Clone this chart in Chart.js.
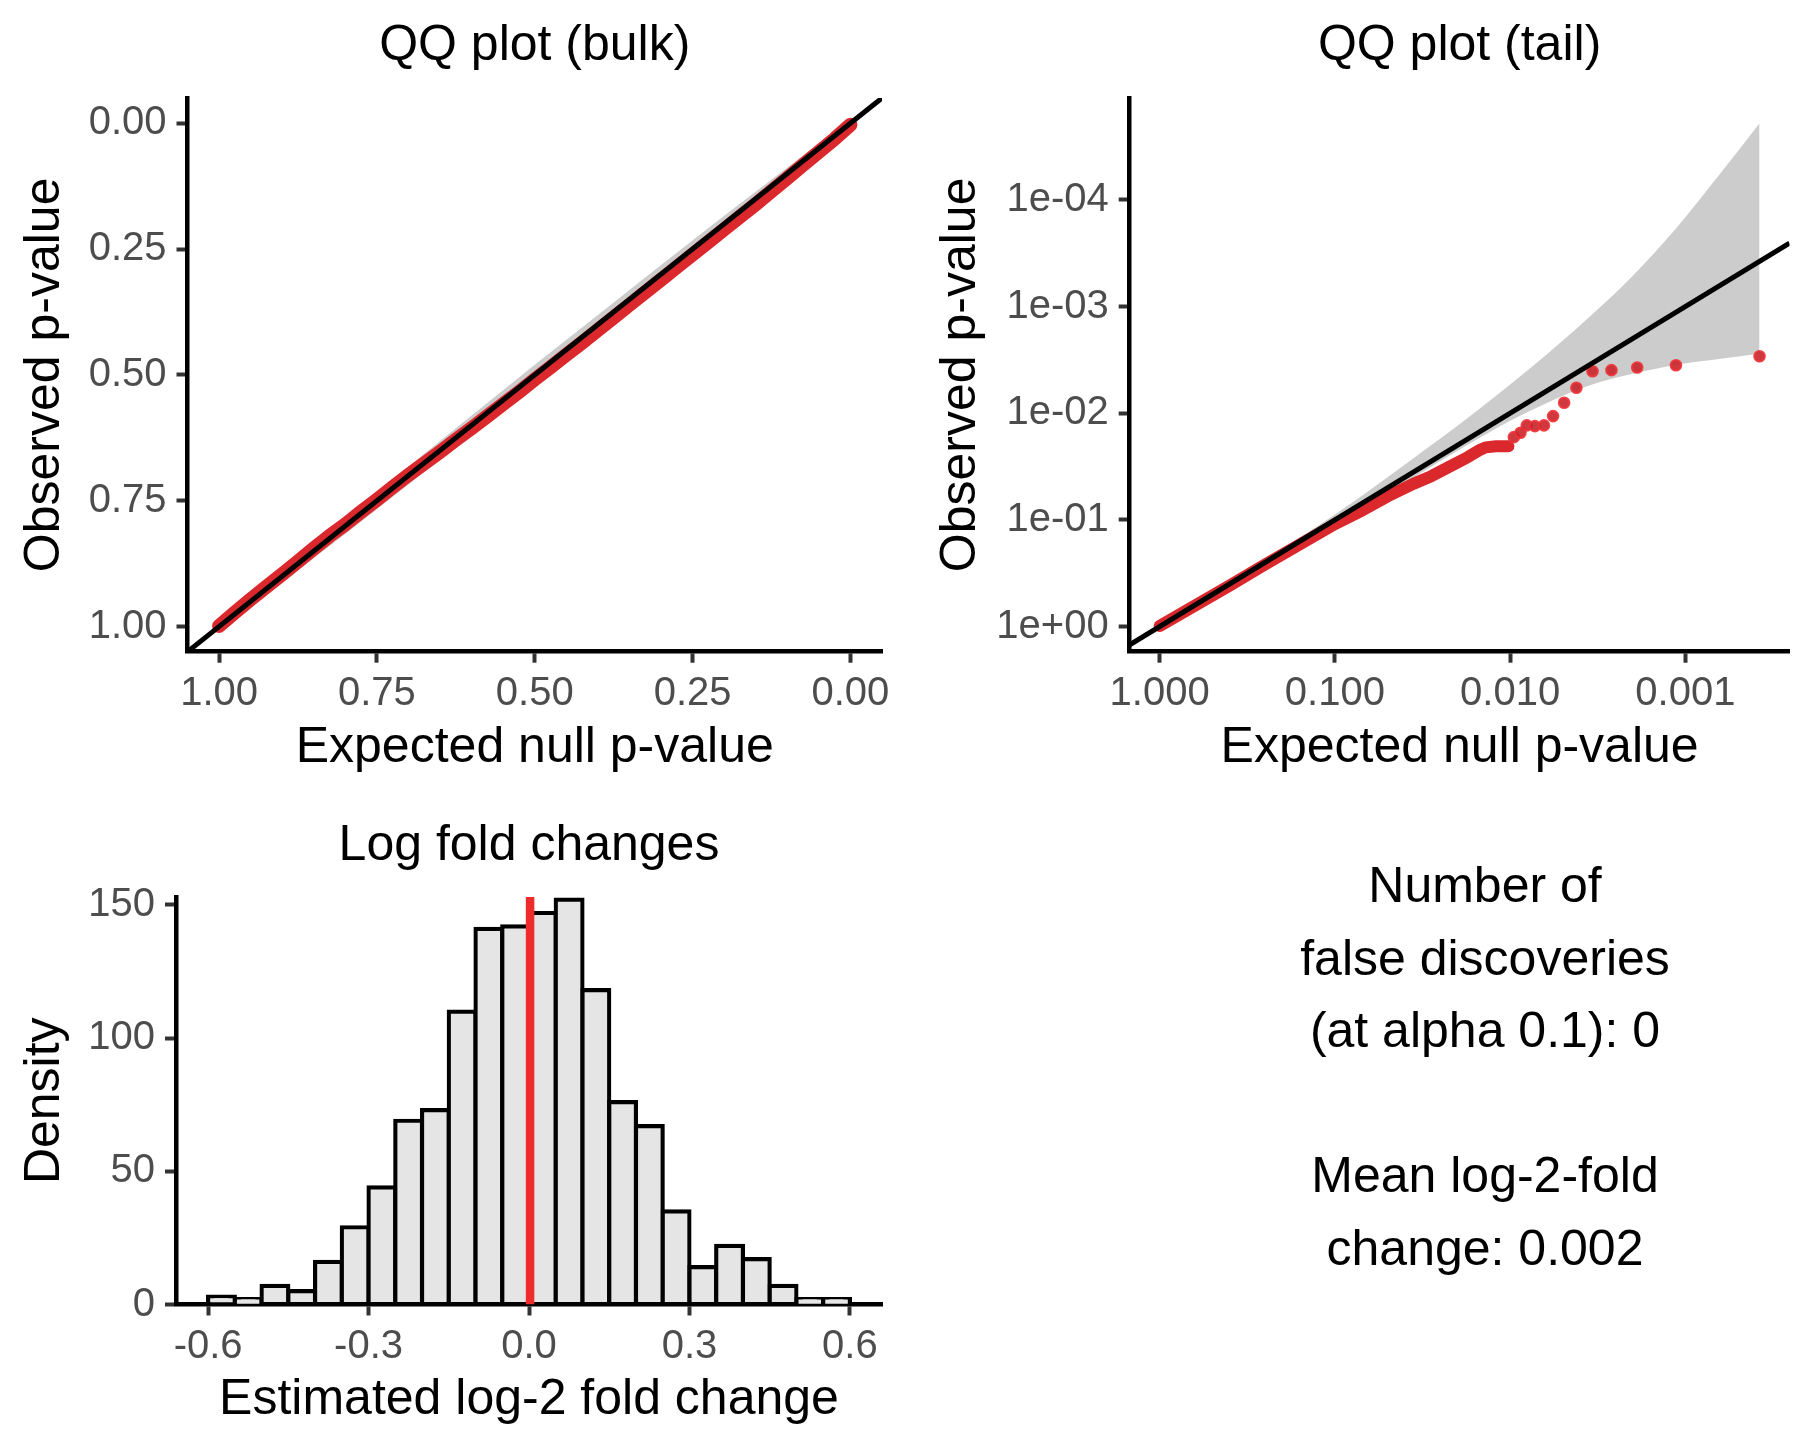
<!DOCTYPE html>
<html>
<head>
<meta charset="utf-8">
<script src="https://cdn.jsdelivr.net/npm/chart.js@4.4.1/dist/chart.umd.min.js"></script>
<style>
  html, body { margin: 0; padding: 0; background: #fff; }
  body { width: 1815px; height: 1452px; position: relative; overflow: hidden; }
  canvas { position: absolute; }
  #bulk { left: 0; top: 0; }
  #tail { left: 907px; top: 0; }
  #hist { left: 0; top: 790px; }
  #summary {
    position: absolute; left: 1185px; top: 849px; width: 600px;
    text-align: center; font-family: "Liberation Sans", Arial, sans-serif;
    font-size: 50px; line-height: 72.5px; color: #000;
  }
</style>
</head>
<body>
<canvas id="bulk" width="907" height="790"></canvas>
<canvas id="tail" width="908" height="790"></canvas>
<canvas id="hist" width="907" height="662"></canvas>
<div id="summary"></div>
<script>
// ── DATA ─────────────────────────────
// QQ plot (bulk): expected vs observed p-value
const bulkExpected = [1.000, 0.975, 0.950, 0.925, 0.900, 0.875, 0.850, 0.825, 0.800, 0.775,
  0.750, 0.725, 0.700, 0.675, 0.650, 0.625, 0.600, 0.575, 0.550, 0.525,
  0.500, 0.475, 0.450, 0.425, 0.400, 0.375, 0.350, 0.325, 0.300, 0.275,
  0.250, 0.225, 0.200, 0.175, 0.150, 0.125, 0.100, 0.075, 0.050, 0.025, 0.000];
const bulkObserved = [0.999, 0.972, 0.946, 0.921, 0.896, 0.871, 0.845, 0.820, 0.797, 0.772,
  0.748, 0.723, 0.699, 0.676, 0.653, 0.629, 0.606, 0.582, 0.558, 0.534,
  0.509, 0.485, 0.460, 0.436, 0.411, 0.386, 0.361, 0.336, 0.311, 0.286,
  0.261, 0.236, 0.211, 0.186, 0.161, 0.135, 0.109, 0.083, 0.057, 0.031, 0.003];
const bulkBandExpected = [0, 0.05, 0.1, 0.2, 0.3, 0.4, 0.5, 0.6, 0.7, 0.8, 0.9, 0.95, 1];
const bulkBandLow  = [0.000, 0.041, 0.088, 0.184, 0.282, 0.381, 0.480, 0.581, 0.682, 0.784, 0.888, 0.941, 0.997];
const bulkBandHigh = [0.003, 0.059, 0.112, 0.216, 0.318, 0.419, 0.520, 0.619, 0.718, 0.816, 0.912, 0.959, 1.000];
const bulkRange = [-0.05, 1.05];
const bulkTicks = [0, 0.25, 0.5, 0.75, 1];
const bulkTickLabels = ["0.00", "0.25", "0.50", "0.75", "1.00"];

// QQ plot (tail): values as -log10(p)
const tailDenseExp = [0.0, 0.2, 0.4, 0.6, 0.8, 1.0, 1.157, 1.3, 1.45, 1.55, 1.69, 1.76, 1.82, 1.86, 1.92, 1.99];
const tailDenseObs = [0.005, 0.195, 0.385, 0.58, 0.77, 0.96, 1.09, 1.22, 1.34, 1.41, 1.53, 1.59, 1.65, 1.68, 1.69, 1.69];
const tailSparseExp = [2.021, 2.059, 2.095, 2.141, 2.193, 2.245, 2.308, 2.378, 2.470, 2.578, 2.725, 2.946, 3.423];
const tailSparseObs = [1.776, 1.817, 1.886, 1.879, 1.886, 1.973, 2.098, 2.239, 2.394, 2.404, 2.429, 2.450, 2.535];
const tailBandExp   = [0, 0.5, 1.0, 1.2, 1.4, 1.6, 1.8, 2.0, 2.2, 2.45, 2.7, 2.95, 3.2, 3.423];
const tailBandUpper = [0.003, 0.52, 1.05, 1.28, 1.52, 1.76, 2.01, 2.27, 2.54, 2.90, 3.29, 3.74, 4.25, 4.72];
const tailBandLower = [0.0, 0.485, 0.965, 1.16, 1.35, 1.55, 1.745, 1.93, 2.09, 2.26, 2.37, 2.455, 2.51, 2.56];
const tailXRange = [-0.171, 3.594];
const tailYRange = [-0.236, 4.956];
const tailXTicks = [1, 0.1, 0.01, 0.001];
const tailXTickLabels = ["1.000", "0.100", "0.010", "0.001"];
const tailYTicks = [1, 0.1, 0.01, 0.001, 0.0001];
const tailYTickLabels = ["1e+00", "1e-01", "1e-02", "1e-03", "1e-04"];

// Log fold changes histogram
const binCenters = [-0.575, -0.525, -0.475, -0.425, -0.375, -0.325, -0.275, -0.225, -0.175, -0.125, -0.075, -0.025,
  0.025, 0.075, 0.125, 0.175, 0.225, 0.275, 0.325, 0.375, 0.425, 0.475, 0.525, 0.575];
const binCounts = [3, 2, 7, 5, 16, 29, 44, 69, 73, 110, 141, 142,
  147, 152, 118, 76, 67, 35, 14, 22, 17, 7, 2, 2];
const meanLfc = 0.002;
const histXRange = [-0.66, 0.66];
const histYMax = 153;
const histXTicks = [-0.6, -0.3, 0, 0.3, 0.6];
const histXTickLabels = ["-0.6", "-0.3", "0.0", "0.3", "0.6"];
const histYTicks = [0, 50, 100, 150];
const histYTickLabels = ["0", "50", "100", "150"];

const summaryLines = ["Number of", "false discoveries", "(at alpha 0.1): 0", "", "Mean log-2-fold", "change: 0.002"];

// ── STYLE ─────────────────────────────
const FONT = "'Liberation Sans', Arial, sans-serif";
const TICK_TEXT = "#4D4D4D";
const RED = "rgb(218,40,45)";
Chart.defaults.font.family = FONT;

// ── HELPERS ─────────────────────────────
const toXY = (xs, ys) => xs.map((x, i) => ({ x: x, y: ys[i] }));
const fromLog = v => Math.pow(10, -v);
const logXY = (xs, ys) => xs.map((x, i) => ({ x: fromLog(x), y: fromLog(ys[i]) }));

const panelTitle = {
  id: "panelTitle",
  afterDraw(chart, args, opts) {
    const { ctx, chartArea } = chart;
    ctx.save();
    ctx.font = "50px " + FONT;
    ctx.fillStyle = "#000";
    ctx.textAlign = "center";
    ctx.textBaseline = "alphabetic";
    ctx.fillText(opts.text, (chartArea.left + chartArea.right) / 2, opts.baseline);
    ctx.restore();
  }
};

function xAxis(extra, ticks, labels, height, title) {
  return Object.assign({
    position: "bottom",
    grid: { display: true, drawOnChartArea: false, drawTicks: true, tickLength: 11, tickWidth: 4, tickColor: "#333333", offset: false },
    border: { display: true, color: "#000", width: 4.5 },
    ticks: { color: TICK_TEXT, font: { size: 40 }, padding: 7.5, maxRotation: 0, autoSkip: false,
             callback: (v, i) => labels[i] },
    title: { display: true, text: title, color: "#000", font: { size: 50 }, padding: { top: 0, bottom: height.titlePad } },
    afterBuildTicks: s => { s.ticks = ticks.map(v => ({ value: v })); },
    afterFit: s => { s.height = height.size; s.paddingLeft = 0; s.paddingRight = 0; }
  }, extra);
}

function yAxis(extra, ticks, labels, width, title) {
  return Object.assign({
    position: "left",
    grid: { display: true, drawOnChartArea: false, drawTicks: true, tickLength: 11, tickWidth: 4, tickColor: "#333333" },
    border: { display: true, color: "#000", width: 4.5 },
    ticks: { color: TICK_TEXT, font: { size: 40 }, padding: 10, autoSkip: false,
             callback: (v, i) => labels[i] },
    title: { display: true, text: title, color: "#000", font: { size: 50 }, padding: { top: width.titlePad, bottom: 0 } },
    afterBuildTicks: s => { s.ticks = ticks.map(v => ({ value: v })); },
    afterFit: s => { s.width = width.size; s.paddingTop = 0; s.paddingBottom = 0; }
  }, extra);
}

const baseOptions = {
  responsive: false,
  animation: false,
  events: []
};

// ── QQ PLOT (BULK) ─────────────────────────
new Chart(document.getElementById("bulk"), {
  type: "line",
  data: {
    datasets: [
      { data: toXY(bulkBandExpected, bulkBandLow), borderWidth: 0, pointRadius: 0, fill: false, order: 3 },
      { data: toXY(bulkBandExpected, bulkBandHigh), borderWidth: 0, pointRadius: 0, fill: "-1",
        backgroundColor: "#CCCCCC", order: 3 },
      { data: toXY(bulkExpected, bulkObserved), borderColor: RED, borderWidth: 14,
        borderCapStyle: "round", borderJoinStyle: "round", pointRadius: 0, fill: false, order: 2 },
      { data: bulkRange.map(v => ({ x: v, y: v })), borderColor: "#000", borderWidth: 5,
        pointRadius: 0, fill: false, order: 1 }
    ]
  },
  options: Object.assign({}, baseOptions, {
    layout: { padding: { top: 98, right: 25, left: 0, bottom: 0 } },
    plugins: { legend: { display: false }, tooltip: { enabled: false },
               panelTitle: { text: "QQ plot (bulk)", baseline: 60 } },
    scales: {
      x: xAxis({ type: "linear", reverse: true, min: bulkRange[0], max: bulkRange[1] },
               bulkTicks, bulkTickLabels, { size: 138.3, titlePad: 12 }, "Expected null p-value"),
      y: yAxis({ type: "linear", reverse: true, min: bulkRange[0], max: bulkRange[1] },
               bulkTicks, bulkTickLabels, { size: 187.5, titlePad: 15.4 }, "Observed p-value")
    }
  }),
  plugins: [panelTitle]
});

// ── QQ PLOT (TAIL) ─────────────────────────
new Chart(document.getElementById("tail"), {
  type: "line",
  data: {
    datasets: [
      { data: logXY(tailBandExp, tailBandLower), borderWidth: 0, pointRadius: 0, fill: false,
        cubicInterpolationMode: "monotone", order: 4 },
      { data: logXY(tailBandExp, tailBandUpper), borderWidth: 0, pointRadius: 0, fill: "-1",
        backgroundColor: "#CCCCCC", cubicInterpolationMode: "monotone", order: 4 },
      { data: logXY(tailDenseExp, tailDenseObs), borderColor: RED, borderWidth: 12,
        borderCapStyle: "round", borderJoinStyle: "round", pointRadius: 0, fill: false, order: 3 },
      { data: logXY(tailSparseExp, tailSparseObs), showLine: false, pointRadius: 5.2, pointBorderWidth: 2.2,
        pointBackgroundColor: "rgba(200,35,42,0.9)", pointBorderColor: "rgba(236,50,55,0.9)", order: 2 },
      { data: tailXRange.map(v => ({ x: fromLog(v), y: fromLog(v) })), borderColor: "#000", borderWidth: 5,
        pointRadius: 0, fill: false, order: 1 }
    ]
  },
  options: Object.assign({}, baseOptions, {
    layout: { padding: { top: 98, right: 25.5, left: 0, bottom: 0 } },
    plugins: { legend: { display: false }, tooltip: { enabled: false },
               panelTitle: { text: "QQ plot (tail)", baseline: 60 } },
    scales: {
      x: xAxis({ type: "logarithmic", reverse: true, min: fromLog(tailXRange[1]), max: fromLog(tailXRange[0]) },
               tailXTicks, tailXTickLabels, { size: 138.3, titlePad: 12 }, "Expected null p-value"),
      y: yAxis({ type: "logarithmic", reverse: true, min: fromLog(tailYRange[1]), max: fromLog(tailYRange[0]) },
               tailYTicks, tailYTickLabels, { size: 222.7, titlePad: 24 }, "Observed p-value")
    }
  }),
  plugins: [panelTitle]
});

// ── LOG FOLD CHANGES ─────────────────────────
new Chart(document.getElementById("hist"), {
  type: "bar",
  data: {
    datasets: [
      { type: "line", data: [{ x: meanLfc, y: 0 }, { x: meanLfc, y: histYMax }], borderColor: "#EE2C2C",
        borderWidth: 8.5, pointRadius: 0, fill: false, order: 0 },
      { type: "bar", data: toXY(binCenters, binCounts), backgroundColor: "#E5E5E5", borderColor: "#000",
        borderWidth: 4.2, borderSkipped: false, inflateAmount: 2.1,
        barPercentage: 1, categoryPercentage: 1, order: 1 }
    ]
  },
  options: Object.assign({}, baseOptions, {
    layout: { padding: { top: 107, right: 25, left: 0, bottom: 0 } },
    plugins: { legend: { display: false }, tooltip: { enabled: false },
               panelTitle: { text: "Log fold changes", baseline: 70 } },
    scales: {
      x: xAxis({ type: "linear", offset: false, min: histXRange[0], max: histXRange[1] },
               histXTicks, histXTickLabels, { size: 147.5, titlePad: 21.5 }, "Estimated log-2 fold change"),
      y: yAxis({ type: "linear", min: 0, max: histYMax },
               histYTicks, histYTickLabels, { size: 176, titlePad: 15.4 }, "Density")
    }
  }),
  plugins: [panelTitle]
});

// ── SUMMARY TEXT ─────────────────────────
const summary = document.getElementById("summary");
summaryLines.forEach((line, i) => {
  if (i > 0) summary.appendChild(document.createElement("br"));
  summary.appendChild(document.createTextNode(line));
});
</script>
</body>
</html>
